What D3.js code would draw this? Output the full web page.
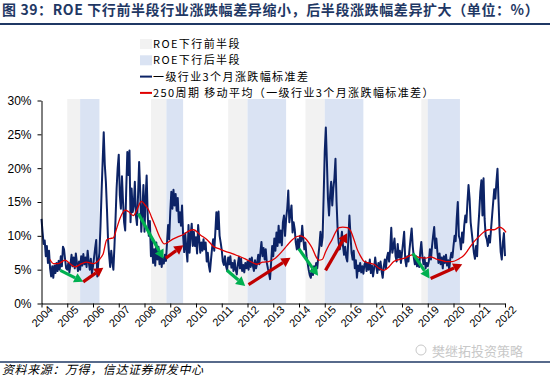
<!DOCTYPE html>
<html>
<head>
<meta charset="utf-8">
<script src="https://cdn.jsdelivr.net/npm/d3@7"></script>
<style>
  body { margin: 0; background: #fff; }
  svg { display: block; }
</style>
</head>
<body>
<svg id="chart" width="550" height="379"></svg>
<script>
// semi-monthly readings of the blue series, starting 2004.0
const stdStart = 2004;
const stdPerYear = 24;
const stdDev = [
  12.5,10.5,8.8,9.3,7.0,8.5,6.0,7.8,5.2,4.0,5.5,3.8,5.6,4.5,6.0,4.8,6.3,5.0,7.0,5.5,8.4,8.0,6.5,5.2,       // 2004
  5.0,6.0,4.6,5.8,7.2,5.5,6.8,5.2,7.4,6.0,4.8,6.2,5.0,7.0,5.6,7.3,5.8,6.8,5.4,7.8,6.2,5.0,6.6,4.4,         // 2005
  5.5,6.8,8.2,9.4,4.0,6.2,7.5,11.5,16.5,21.0,25.3,20.5,18.0,14.0,9.5,7.2,5.4,7.8,6.2,5.0,8.5,12.5,17.0,20.0, // 2006
  22.0,16.0,14.0,18.8,15.0,12.0,10.8,17.0,22.4,19.0,22.6,12.0,17.0,13.5,14.5,18.0,13.0,11.6,16.0,20.9,16.6,10.6,13.5,17.5, // 2007
  10.6,15.5,18.9,13.0,10.0,12.2,7.0,9.2,6.0,8.0,5.6,9.0,6.5,8.4,5.8,7.6,5.4,6.8,5.9,7.2,6.3,9.0,11.6,9.5,  // 2008
  13.5,16.5,14.0,16.8,14.5,16.2,13.7,15.6,12.0,13.5,11.5,14.5,10.0,7.6,10.4,8.0,6.2,11.6,7.5,10.0,11.8,8.5,10.6,8.5, // 2009
  9.8,7.4,11.6,9.5,7.5,9.0,7.8,9.5,8.0,9.0,6.2,7.5,5.6,4.7,6.5,8.2,9.5,7.8,10.5,13.5,11.0,13.6,10.0,9.0,   // 2010
  7.9,6.2,5.7,7.0,5.5,4.9,6.8,5.8,7.0,5.3,6.0,4.8,6.4,5.0,4.3,5.8,6.9,5.2,6.6,4.8,5.7,4.6,6.0,5.2,         // 2011
  6.2,5.0,6.6,5.4,6.8,5.6,4.8,6.4,5.2,6.0,7.2,5.8,7.5,9.1,7.0,8.2,6.5,8.0,6.0,5.2,4.5,3.6,6.0,8.5,         // 2012
  7.0,9.6,7.8,10.5,8.5,11.5,9.0,10.8,8.6,12.0,13.0,10.0,12.5,14.0,16.7,12.0,13.2,14.5,10.5,12.0,11.0,9.0,8.0,9.5, // 2013
  8.0,10.0,9.2,11.5,9.5,8.0,9.0,7.0,6.0,5.0,4.2,3.8,5.0,4.2,5.5,4.8,6.0,5.2,7.0,8.5,10.6,8.5,9.8,16.0,     // 2014
  22.5,26.0,21.0,15.5,13.0,16.0,18.0,14.5,17.0,18.5,21.4,15.0,11.0,9.0,8.0,9.0,10.6,8.5,7.2,8.4,6.8,6.2,9.5,13.0, // 2015
  10.0,7.5,6.5,7.8,5.2,6.4,3.8,5.6,4.8,6.0,4.6,5.5,4.4,5.8,6.2,4.8,6.0,5.0,6.5,4.5,5.6,4.0,5.2,6.8,        // 2016
  5.5,4.5,6.0,5.0,6.2,4.8,3.8,5.5,6.5,5.2,6.8,7.5,6.2,8.0,11.2,7.5,8.4,9.6,7.0,6.2,8.8,6.8,7.8,6.0,        // 2017
  7.5,9.0,10.6,6.5,5.5,7.0,6.2,8.0,9.6,11.1,8.5,6.8,5.8,7.0,5.5,6.5,5.4,7.6,9.1,7.0,5.8,6.8,5.2,6.0,       // 2018
  5.5,6.2,8.0,6.5,8.5,10.0,11.3,8.2,9.6,7.6,6.0,7.4,5.8,6.8,5.2,7.0,6.0,7.2,5.6,6.4,5.0,6.6,7.5,6.8,       // 2019
  8.5,10.0,9.2,12.5,15.0,10.0,9.5,8.0,10.5,9.0,11.5,13.0,12.0,15.0,17.5,15.5,12.0,10.5,9.0,7.5,6.6,8.5,7.0,11.0, // 2020
  13.5,16.5,18.2,13.0,18.5,12.5,10.0,9.5,8.5,10.0,9.0,11.0,13.0,15.0,16.9,15.5,18.0,19.9,15.0,10.5,7.6,6.5,9.0,10.4, // 2021
  7.0 // 2022
];

// 250-period moving average, read at its turning points
const maYears = [2004.33,2004.46,2004.65,2004.91,2005.17,2005.30,2005.56,2005.75,2006.01,2006.27,2006.40,2006.53,
  2006.66,2006.79,2006.92,2007.05,2007.25,2007.37,2007.57,2007.70,2007.88,2008.03,2008.15,2008.27,2008.42,2008.62,
  2008.77,2008.89,2009.01,2009.27,2009.51,2009.71,2009.90,2010.18,2010.44,2010.69,2010.88,2011.14,2011.38,2011.65,
  2011.91,2012.17,2012.37,2012.59,2012.82,2013.08,2013.34,2013.54,2013.73,2013.92,2014.07,2014.25,2014.38,2014.51,
  2014.65,2014.77,2014.90,2015.03,2015.16,2015.28,2015.43,2015.56,2015.70,2015.88,2016.01,2016.13,2016.26,2016.39,
  2016.53,2016.71,2016.91,2017.11,2017.30,2017.49,2017.68,2017.88,2018.11,2018.39,2018.66,2018.92,2019.11,2019.31,
  2019.50,2019.70,2019.95,2020.21,2020.40,2020.60,2020.79,2020.99,2021.19,2021.38,2021.58,2021.79,2021.93,2022.04];
const maValues = [6.5,5.9,5.9,6.4,5.7,5.4,5.9,6.1,5.9,6.6,7.4,9.4,
  9.6,9.7,11.1,12.6,13.8,13.6,13.0,13.8,15.1,14.5,13.9,12.8,11.4,9.6,
  8.8,9.0,9.3,9.8,10.2,10.7,10.9,10.1,9.4,8.4,8.1,7.7,7.4,7.0,
  6.6,6.1,5.8,6.1,6.2,6.7,7.7,8.6,9.4,9.9,10.0,9.6,9.0,8.2,
  7.0,6.4,6.5,7.6,8.6,9.4,10.6,11.2,11.3,11.2,10.7,9.5,8.0,7.0,
  6.2,6.0,5.8,5.2,4.9,5.4,6.2,6.5,6.7,7.2,6.8,6.7,6.9,6.6,
  6.4,6.2,6.2,6.6,7.1,8.1,9.1,9.9,10.6,10.9,10.9,11.3,11.0,10.5];

// ROE down-cycle phases [from, to]
const frontHalf = [[2005.0, 2005.5], [2008.25, 2008.85], [2011.25, 2012.0], [2014.25, 2015.0], [2018.75, 2019.0]];
const backHalf = [[2005.5, 2006.25], [2008.85, 2009.5], [2012.0, 2013.5], [2015.0, 2016.5], [2019.0, 2020.25]];

// arrows [yearFrom, valueFrom, yearTo, valueTo]
const greenArrows = [[2004.73, 4.9, 2005.62, 3.2], [2007.76, 13.3, 2008.74, 6.6], [2011.20, 4.9, 2011.91, 2.6],
  [2013.99, 8.1, 2014.74, 4.1], [2018.42, 7.4, 2019.07, 3.7]];
const redArrows = [[2005.62, 3.2, 2006.40, 5.3], [2008.83, 6.7, 2009.51, 8.6], [2012.04, 2.8, 2013.67, 6.75],
  [2015.03, 4.9, 2015.87, 10.4], [2019.11, 3.7, 2020.34, 5.8]];

const yearTicks = [2004,2005,2006,2007,2008,2009,2010,2011,2012,2013,2014,2015,2016,2017,2018,2019,2020,2021,2022];
const pctTicks = [0, 5, 10, 15, 20, 25, 30];

const svg = d3.select("#chart");
const navy = "#1f3864";

const x = d3.scaleLinear().domain([2004, 2022]).range([41.5, 505]);
const y = d3.scaleLinear().domain([0, 30]).range([303.5, 100.5]);

// title
svg.append("text")
    .attr("x", 2).attr("y", 15)
    .attr("font-family", "Noto Sans CJK SC")
    .attr("font-size", 14).attr("font-weight", "bold")
    .attr("letter-spacing", 0.6)
    .attr("fill", navy)
    .text("图 39：ROE 下行前半段行业涨跌幅差异缩小，后半段涨跌幅差异扩大（单位：%）");
svg.append("line")
    .attr("x1", 0).attr("x2", 550).attr("y1", 24).attr("y2", 24)
    .attr("stroke", navy).attr("stroke-width", 1.8);

// phase bands
svg.append("g").selectAll("rect")
    .data(frontHalf)
  .enter().append("rect")
    .attr("x", d => x(d[0]))
    .attr("width", d => x(d[1]) - x(d[0]))
    .attr("y", y(30) - 1.5)
    .attr("height", y(0) - y(30) + 1.5)
    .attr("fill", "#f2f2f2");
svg.append("g").selectAll("rect")
    .data(backHalf)
  .enter().append("rect")
    .attr("x", d => x(d[0]))
    .attr("width", d => x(d[1]) - x(d[0]))
    .attr("y", y(30) - 1.5)
    .attr("height", y(0) - y(30) + 1.5)
    .attr("fill", "#dae3f3");

// series
const stdLine = d3.line()
    .x((d, i) => x(stdStart + i / stdPerYear))
    .y(d => y(d));
svg.append("path")
    .datum(stdDev)
    .attr("fill", "none")
    .attr("stroke", "#0c2366")
    .attr("stroke-width", 2)
    .attr("stroke-linejoin", "round")
    .attr("d", stdLine);

const maLine = d3.line()
    .x((d, i) => x(maYears[i]))
    .y(d => y(d))
    .curve(d3.curveMonotoneX);
svg.append("path")
    .datum(maValues)
    .attr("fill", "none")
    .attr("stroke", "#e00000")
    .attr("stroke-width", 1.3)
    .attr("d", maLine);

// arrows
function drawArrow(a, color) {
    const x1 = x(a[0]), y1 = y(a[1]), x2 = x(a[2]), y2 = y(a[3]);
    const ang = Math.atan2(y2 - y1, x2 - x1);
    const head = 9, half = 5;
    const bx = x2 - head * Math.cos(ang), by = y2 - head * Math.sin(ang);
    svg.append("line")
        .attr("x1", x1).attr("y1", y1).attr("x2", bx).attr("y2", by)
        .attr("stroke", color).attr("stroke-width", 3.2);
    const px = -Math.sin(ang) * half, py = Math.cos(ang) * half;
    svg.append("path")
        .attr("d", `M${x2},${y2}L${bx + px},${by + py}L${bx - px},${by - py}Z`)
        .attr("fill", color);
}
greenArrows.forEach(a => drawArrow(a, "#00b050"));
redArrows.forEach(a => drawArrow(a, "#c00000"));

// axes
const xAxis = svg.append("g")
    .attr("transform", `translate(0,${y(0)})`)
    .call(d3.axisBottom(x).tickValues(yearTicks).tickFormat(d3.format("d")).tickSize(4).tickSizeOuter(0));
xAxis.selectAll("text")
    .attr("font-family", "Liberation Sans, Arial")
    .attr("font-size", 11)
    .attr("fill", "#000")
    .attr("text-anchor", "end")
    .attr("dx", "0.3em").attr("dy", "0.55em")
    .attr("transform", "rotate(-45)");

const yAxis = svg.append("g")
    .attr("transform", `translate(${x(2004)},0)`)
    .call(d3.axisLeft(y).tickValues(pctTicks).tickFormat(d => d + "%").tickSize(4).tickSizeOuter(0));
yAxis.selectAll("text")
    .attr("font-family", "Liberation Sans, Arial")
    .attr("font-size", 12)
    .attr("fill", "#000")
    .attr("x", -10);
svg.selectAll(".domain, .tick line").attr("stroke", "#000");

// legend
const legendItems = [
  {label: "ROE下行前半段", type: "box", color: "#f2f2f2"},
  {label: "ROE下行后半段", type: "box", color: "#dae3f3"},
  {label: "一级行业3个月涨跌幅标准差", type: "line", color: "#0c2366"},
  {label: "250周期 移动平均（一级行业3个月涨跌幅标准差）", type: "line", color: "#e00000"}
];
const legend = svg.append("g").attr("transform", "translate(140,44)");
legendItems.forEach((d, i) => {
    const g = legend.append("g").attr("transform", `translate(0,${i * 16.3})`);
    if (d.type === "box") {
        g.append("rect").attr("x", 0).attr("y", -5).attr("width", 12).attr("height", 10).attr("fill", d.color);
    } else {
        g.append("line").attr("x1", 0).attr("x2", 12).attr("y1", 0).attr("y2", 0)
            .attr("stroke", d.color).attr("stroke-width", 2);
    }
    g.append("text")
        .attr("x", 13).attr("y", 4)
        .attr("font-family", "Noto Sans CJK SC")
        .attr("font-size", 11)
        .attr("letter-spacing", 1.4)
        .attr("fill", "#000")
        .text(d.label);
});

// footer
svg.append("line")
    .attr("x1", 0).attr("x2", 550).attr("y1", 362).attr("y2", 362)
    .attr("stroke", navy).attr("stroke-width", 1.5);
svg.append("text")
    .attr("x", 432).attr("y", 356)
    .attr("font-family", "Noto Sans CJK SC")
    .attr("font-size", 13)
    .attr("fill", "#c8c8c8")
    .text("樊继拓投资策略");
svg.append("circle").attr("cx", 421).attr("cy", 350).attr("r", 5)
    .attr("fill", "none").attr("stroke", "#c8c8c8");
svg.append("text")
    .attr("x", 2).attr("y", 374)
    .attr("font-family", "Noto Sans CJK SC")
    .attr("font-size", 12)
    .attr("letter-spacing", 0.6)
    .attr("font-style", "italic")
    .attr("fill", "#000")
    .text("资料来源：万得，信达证券研发中心");
</script>
</body>
</html>
